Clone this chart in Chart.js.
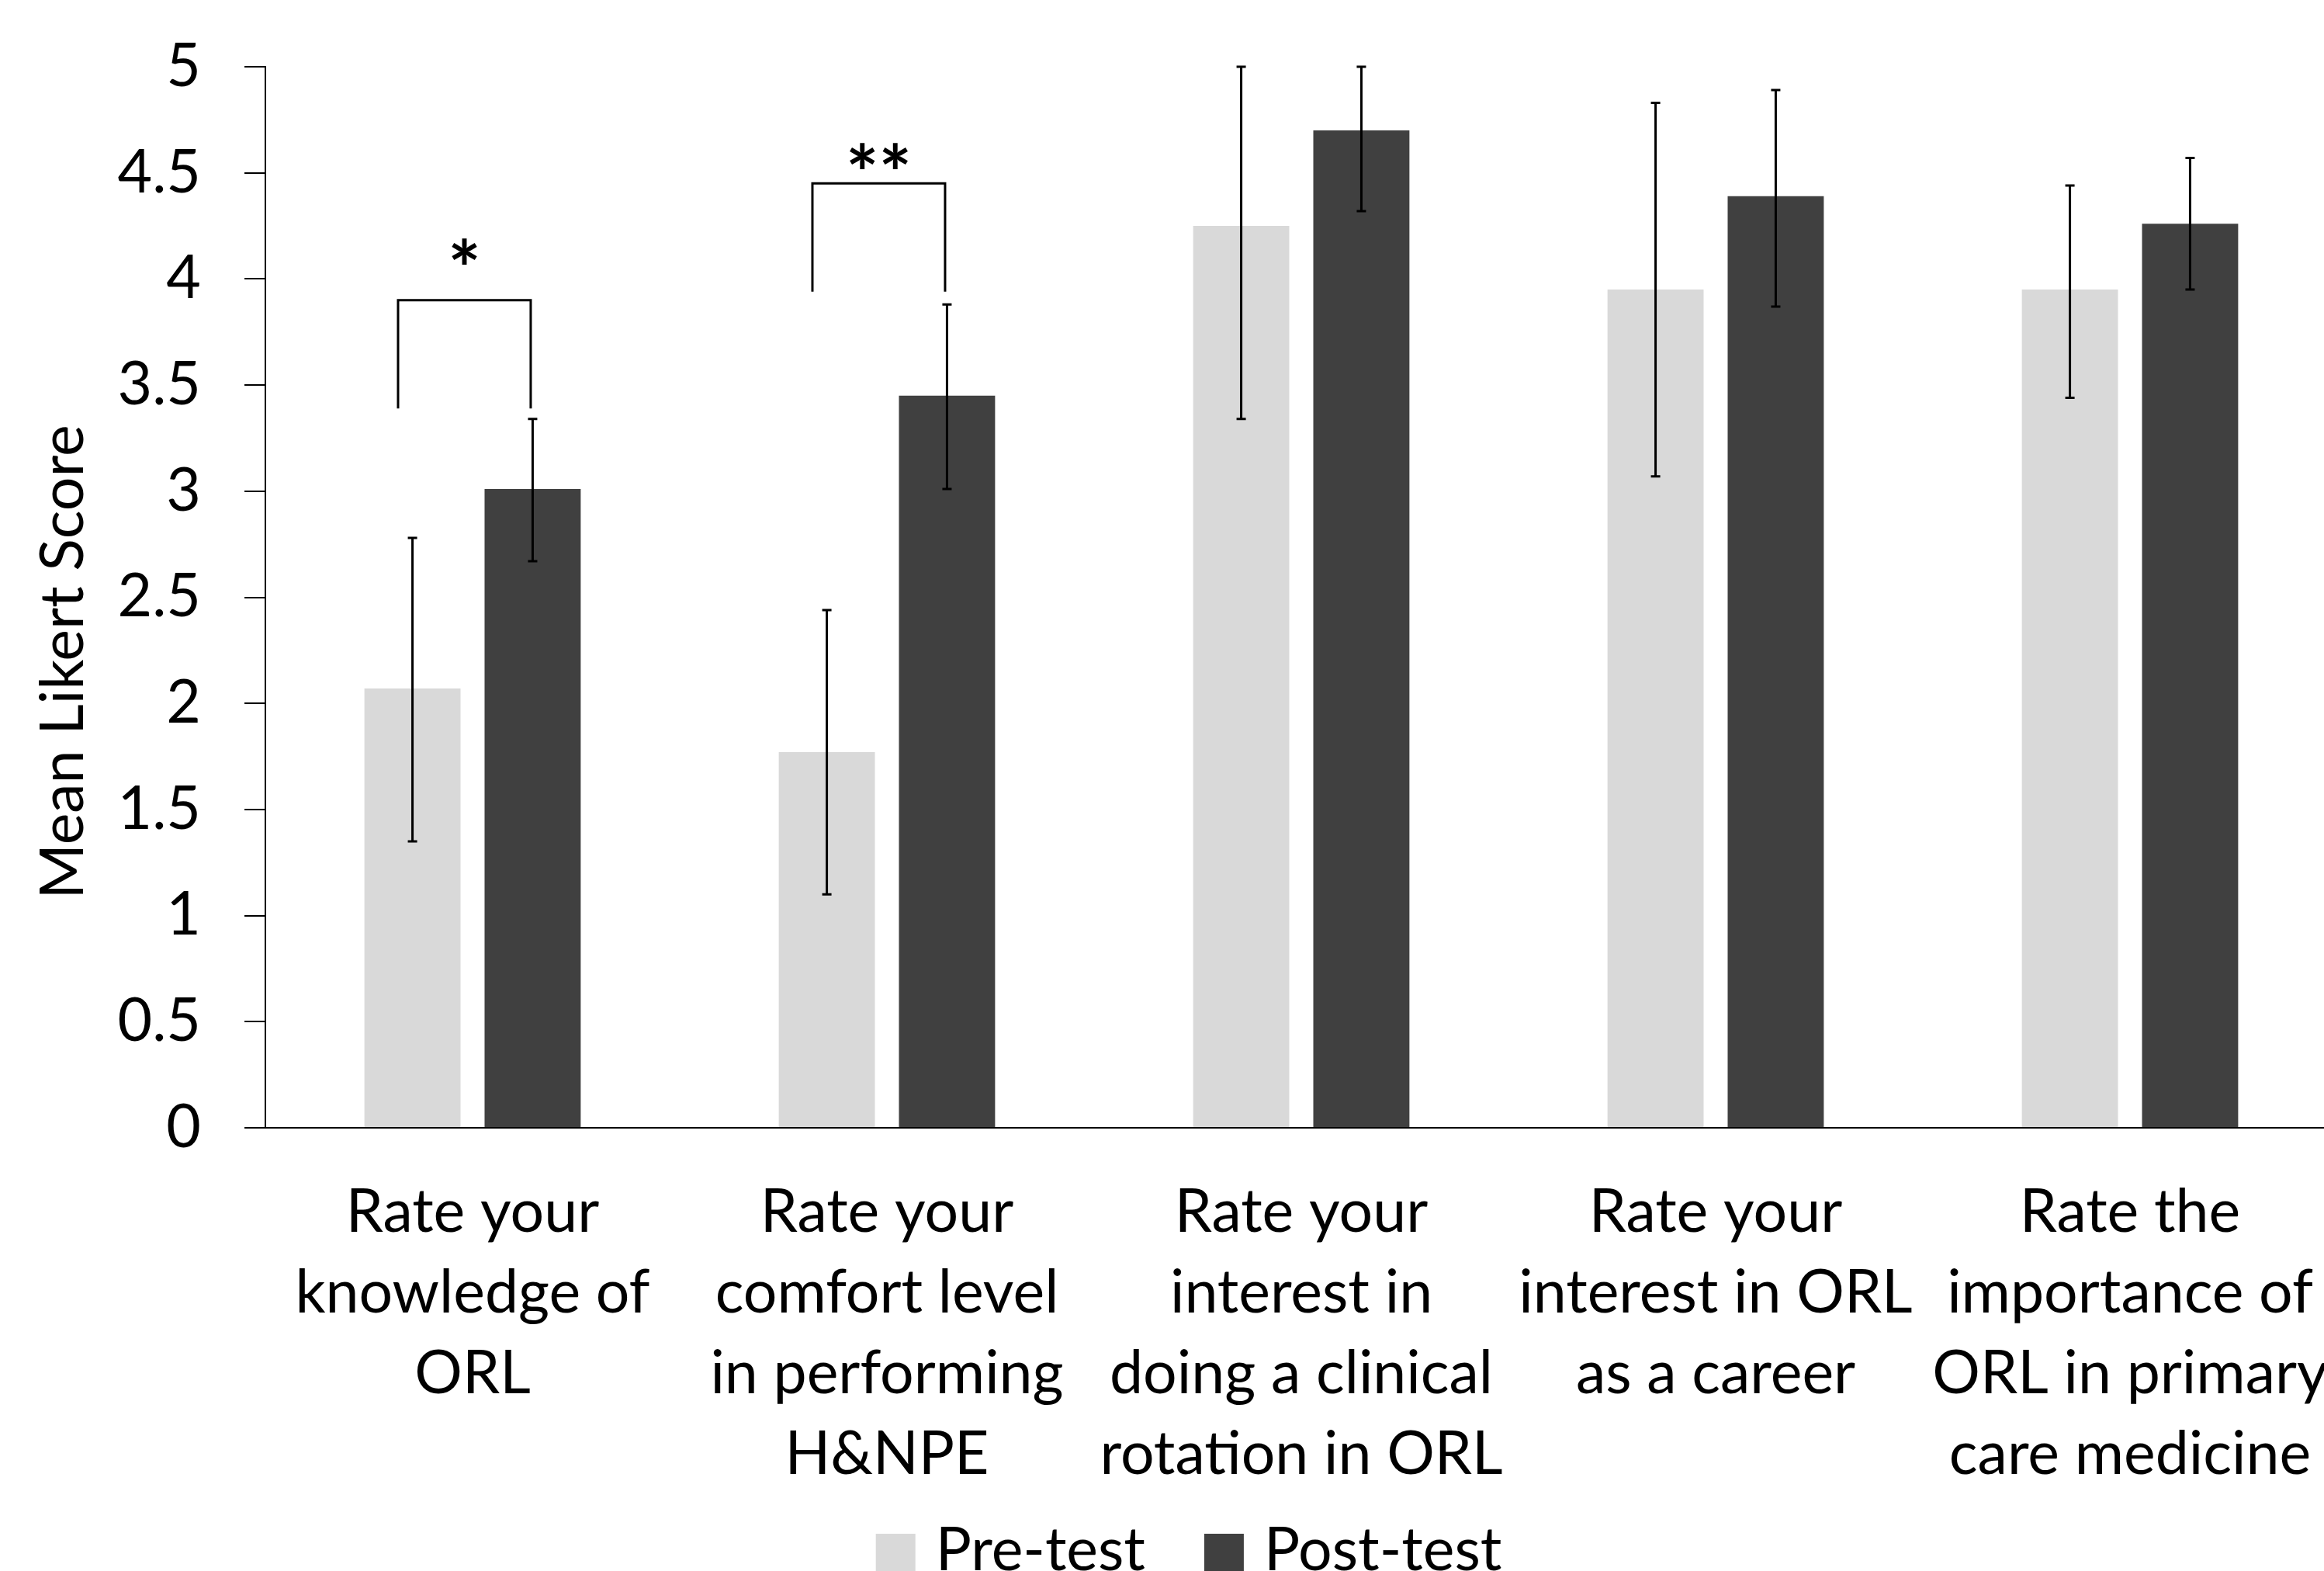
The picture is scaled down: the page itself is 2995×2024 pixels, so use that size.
<!DOCTYPE html>
<html>
<head>
<meta charset="utf-8">
<script src="https://cdn.jsdelivr.net/npm/chart.js@4.4.0/dist/chart.umd.min.js"></script>
<style>
  html, body { margin: 0; padding: 0; background: #fff; overflow: hidden; }
  /* la figure d'origine est rognée à droite */
  #frame { width: 2995px; height: 2024px; overflow: hidden; }
</style>
</head>
<body>
<div id="frame"><canvas id="likertChart" width="3012" height="2024"></canvas></div>
<script>
// categories (multi-line labels, as in the figure)
const categories = [
  ['Rate your', 'knowledge of', 'ORL'],
  ['Rate your', 'comfort level', 'in performing', 'H&NPE'],
  ['Rate your', 'interest in', 'doing a clinical', 'rotation in ORL'],
  ['Rate your', 'interest in ORL', 'as a career'],
  ['Rate the', 'importance of', 'ORL in primary', 'care medicine']
];

// mean scores
const preTest = [2.07, 1.77, 4.25, 3.95, 3.95];
const postTest = [3.01, 3.45, 4.70, 4.39, 4.26];

// error bar ends
const preLow = [1.35, 1.10, 3.34, 3.07, 3.44];
const preHigh = [2.78, 2.44, 5.00, 4.83, 4.44];
const postLow = [2.67, 3.01, 4.32, 3.87, 3.95];
const postHigh = [3.34, 3.88, 5.00, 4.89, 4.57];

// significance brackets
const bracketIndex = [0, 1];
const bracketTop = [3.90, 4.45];
const bracketFoot = [3.39, 3.94];
const bracketMark = ['*', '**'];
const bracketMarkY = [4.13, 4.58];

const seriesNames = ['Pre-test', 'Post-test'];
const seriesColors = ['#d9d9d9', '#404040'];

const FONT = 'Lato';
const FONT_SIZE = 77;
Chart.defaults.font.family = FONT;
Chart.defaults.color = '#000';

// barres d'erreur
const errorBarPlugin = {
  id: 'errorBars',
  afterDatasetsDraw(chart) {
    const ctx = chart.ctx;
    const y = chart.scales.y;
    const lows = [preLow, postLow];
    const highs = [preHigh, postHigh];
    ctx.save();
    ctx.strokeStyle = '#000';
    ctx.lineWidth = 3;
    chart.data.datasets.forEach((ds, d) => {
      const meta = chart.getDatasetMeta(d);
      meta.data.forEach((bar, i) => {
        const top = y.getPixelForValue(highs[d][i]);
        const bot = y.getPixelForValue(lows[d][i]);
        ctx.beginPath();
        ctx.moveTo(bar.x, top);
        ctx.lineTo(bar.x, bot);
        ctx.moveTo(bar.x - 6, top);
        ctx.lineTo(bar.x + 6, top);
        ctx.moveTo(bar.x - 6, bot);
        ctx.lineTo(bar.x + 6, bot);
        ctx.stroke();
      });
    });
    ctx.restore();
  }
};

// crochets de significativité + titre Y + légende
const annotationPlugin = {
  id: 'annotations',
  afterDraw(chart) {
    const ctx = chart.ctx;
    const y = chart.scales.y;
    const pre = chart.getDatasetMeta(0).data;
    const post = chart.getDatasetMeta(1).data;

    ctx.save();
    ctx.strokeStyle = '#000';
    ctx.lineWidth = 3;
    ctx.fillStyle = '#000';
    bracketIndex.forEach((idx, k) => {
      const w = pre[idx].width;
      const x1 = pre[idx].x - 0.15 * w;
      const x2 = post[idx].x - 0.02 * w;
      const yt = y.getPixelForValue(bracketTop[k]);
      const yf = y.getPixelForValue(bracketFoot[k]);
      ctx.beginPath();
      ctx.moveTo(x1, yf);
      ctx.lineTo(x1, yt);
      ctx.lineTo(x2, yt);
      ctx.lineTo(x2, yf);
      ctx.stroke();
      // centrer le glyphe sur la valeur
      ctx.font = `bold 100px ${FONT}`;
      ctx.textAlign = 'center';
      ctx.textBaseline = 'alphabetic';
      const m = ctx.measureText(bracketMark[k]);
      const yc = y.getPixelForValue(bracketMarkY[k]);
      ctx.fillText(bracketMark[k], (x1 + x2) / 2, yc + (m.actualBoundingBoxAscent - m.actualBoundingBoxDescent) / 2);
    });

    // titre de l'axe Y
    ctx.save();
    ctx.translate(82, 853);
    ctx.rotate(-Math.PI / 2);
    ctx.textAlign = 'center';
    ctx.textBaseline = 'middle';
    ctx.font = `${FONT_SIZE}px ${FONT}`;
    ctx.fillText('Mean Likert Score', 0, 0);
    ctx.restore();

    // légende
    ctx.font = `${FONT_SIZE}px ${FONT}`;
    ctx.textAlign = 'left';
    ctx.textBaseline = 'alphabetic';
    const box = 51, gap = 26, itemGap = 76;
    const widths = seriesNames.map(n => ctx.measureText(n).width);
    const total = widths.reduce((a, b) => a + b, 0) + seriesNames.length * (box + gap) + itemGap * (seriesNames.length - 1);
    let x = 1532 - total / 2;
    seriesNames.forEach((name, i) => {
      ctx.fillStyle = seriesColors[i];
      ctx.fillRect(x, 1976, box, box);
      ctx.fillStyle = '#000';
      ctx.fillText(name, x + box + gap, 2023);
      x += box + gap + widths[i] + itemGap;
    });
    ctx.restore();
  }
};

const ctx = document.getElementById('likertChart').getContext('2d');
new Chart(ctx, {
  type: 'bar',
  data: {
    labels: categories,
    datasets: [
      { label: seriesNames[0], data: preTest, backgroundColor: seriesColors[0] },
      { label: seriesNames[1], data: postTest, backgroundColor: seriesColors[1] }
    ]
  },
  options: {
    responsive: false,
    animation: false,
    datasets: {
      bar: { categoryPercentage: 0.58, barPercentage: 0.8 }
    },
    layout: { padding: { top: 86, right: 0, bottom: 98, left: 0 } },
    plugins: {
      legend: { display: false },
      tooltip: { enabled: false }
    },
    scales: {
      x: {
        afterFit(scale) {
          scale.paddingLeft = 0;
          scale.paddingRight = 0;
          scale.height = 57 + 4 * 104;
        },
        grid: { display: true, drawOnChartArea: false, drawTicks: false },
        border: { color: '#000', width: 2 },
        ticks: {
          font: { size: FONT_SIZE, lineHeight: 104 / 77 },
          padding: 57,
          maxRotation: 0,
          autoSkip: false
        }
      },
      y: {
        min: 0,
        max: 5,
        afterFit(scale) {
          scale.width = 342;
          scale.paddingTop = 0;
          scale.paddingBottom = 0;
        },
        grid: { drawOnChartArea: false, drawTicks: true, tickLength: 27, color: '#000', lineWidth: 2 },
        border: { color: '#000', width: 2 },
        ticks: {
          stepSize: 0.5,
          font: { size: FONT_SIZE },
          padding: 56,
          callback: v => String(Math.round(v * 10) / 10)
        }
      }
    }
  },
  plugins: [errorBarPlugin, annotationPlugin]
});
</script>
</body>
</html>
